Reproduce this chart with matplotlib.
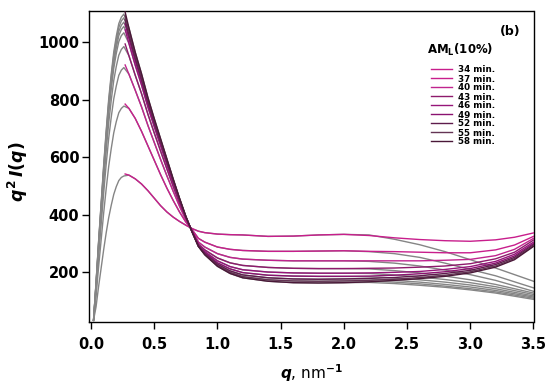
import matplotlib
matplotlib.use("Agg")
import matplotlib.pyplot as plt
from matplotlib.ticker import FormatStrFormatter

plt.rcParams['font.family'] = ['DejaVu Sans']
plt.rcParams['font.weight'] = 'bold'
plt.rcParams['mathtext.fontset'] = 'custom'
plt.rcParams['mathtext.rm'] = 'DejaVu Sans:bold'
plt.rcParams['mathtext.it'] = 'DejaVu Sans:italic:bold'
plt.rcParams['mathtext.bf'] = 'DejaVu Sans:bold'

times = ["34 min.", "37 min.", "40 min.", "43 min.", "46 min.", "49 min.", "52 min.", "55 min.", "58 min."]
colors = ["#c81e8c", "#c81e8c", "#c0248e", "#8e1a6c", "#96157a", "#8a1270", "#5e1c4c", "#643454", "#4a1838"]

# measured data q grid
q_meas = [0.27, 0.30, 0.35, 0.40, 0.45, 0.50, 0.55, 0.60, 0.65, 0.70, 0.75, 0.80, 0.85, 0.90,
          1.00, 1.10, 1.20, 1.40, 1.60, 1.80, 2.00, 2.20, 2.40, 2.60, 2.80, 3.00, 3.20, 3.35, 3.50]

m34 = [542, 538, 525, 507, 484, 458, 432, 410, 392, 377, 364, 352, 343, 338,
       333, 331, 330, 325, 326, 330, 332, 328, 320, 314, 310, 308, 313, 322, 337]
m37 = [785, 770, 735, 690, 640, 590, 540, 493, 450, 410, 375, 348, 318, 305,
       288, 280, 276, 273, 273, 274, 275, 273, 272, 270, 268, 268, 278, 295, 325]
m40 = [921, 889, 833, 775, 711, 652, 593, 536, 482, 430, 383, 345, 305, 288,
       265, 252, 246, 242, 240, 240, 240, 240, 240, 240, 242, 245, 258, 280, 318]
m43 = [994, 953, 885, 821, 750, 685, 622, 560, 499, 441, 388, 343, 298, 278,
       250, 233, 224, 217, 214, 213, 213, 214, 215, 218, 222, 230, 247, 270, 312]
m46 = [1043, 996, 920, 851, 775, 707, 641, 575, 510, 449, 391, 342, 294, 272,
       240, 220, 209, 201, 198, 197, 197, 198, 200, 203, 210, 220, 238, 263, 305]
m49 = [1064, 1014, 936, 864, 786, 716, 649, 582, 515, 452, 392, 341, 292, 268,
       233, 212, 199, 190, 187, 186, 186, 187, 190, 195, 202, 213, 232, 257, 300]
m52 = [1078, 1026, 946, 873, 794, 723, 655, 586, 519, 454, 393, 341, 291, 265,
       228, 205, 191, 181, 177, 176, 177, 179, 182, 188, 196, 207, 227, 252, 296]
m55 = [1092, 1039, 956, 882, 801, 729, 660, 591, 522, 456, 394, 340, 290, 263,
       224, 200, 185, 174, 170, 169, 170, 172, 176, 182, 190, 202, 222, 248, 292]
m58 = [1105, 1050, 965, 890, 808, 735, 665, 595, 525, 458, 395, 340, 290, 261,
       221, 196, 181, 169, 164, 163, 164, 167, 172, 178, 186, 198, 218, 244, 290]
measured = [m34, m37, m40, m43, m46, m49, m52, m55, m58]

# fit curves: low-q rise, then follow data, then high-q tails
q_fit_low = [0.02, 0.04, 0.06, 0.08, 0.10, 0.12, 0.14, 0.16, 0.18, 0.20, 0.22, 0.24, 0.26]
f_low = [
    [33, 80, 150, 214, 278, 337, 390, 433, 471, 498, 519, 530, 535],
    [33, 117, 218, 311, 405, 490, 568, 630, 685, 724, 755, 770, 778],
    [33, 137, 255, 365, 474, 575, 666, 739, 803, 848, 885, 903, 912],
    [33, 148, 276, 394, 512, 621, 719, 798, 867, 916, 955, 975, 985],
    [33, 155, 289, 413, 537, 651, 754, 837, 909, 961, 1002, 1023, 1033],
    [33, 158, 295, 422, 549, 665, 770, 855, 928, 981, 1023, 1044, 1055],
    [33, 161, 300, 428, 556, 674, 781, 867, 942, 995, 1038, 1059, 1070],
    [33, 163, 304, 434, 564, 684, 792, 879, 955, 1009, 1052, 1074, 1085],
    [33, 165, 307, 439, 571, 692, 802, 889, 966, 1021, 1065, 1087, 1098],
]
q_fit_high = [2.20, 2.40, 2.60, 2.80, 3.00, 3.20, 3.50]
f_high = [
    [330, 315, 296, 272, 244, 215, 169],
    [272, 265, 252, 232, 210, 188, 146],
    [238, 232, 222, 208, 192, 172, 134],
    [212, 206, 198, 187, 174, 158, 128],
    [196, 191, 184, 175, 164, 150, 123],
    [185, 180, 174, 166, 156, 143, 118],
    [177, 172, 166, 158, 149, 137, 114],
    [170, 166, 160, 152, 143, 132, 110],
    [165, 161, 155, 148, 139, 128, 106],
]
mid_lo, mid_hi = 1, 21  # q 0.30 .. 2.00 from the data grid

W, H = 550, 389
fig = plt.figure(figsize=(W / 100, H / 100), dpi=100)
ax = fig.add_axes([0.162, 0.172, 0.808, 0.800])

q_fit = q_fit_low + q_meas[mid_lo:mid_hi] + q_fit_high
for k in range(len(times)):
    fv = f_low[k] + measured[k][mid_lo:mid_hi] + f_high[k]
    ax.plot(q_fit, fv, color="#858585", lw=1.0, zorder=2)

handles = []
for k in range(len(times)):
    h, = ax.plot(q_meas, measured[k], color=colors[k], lw=1.0, zorder=3, label=times[k])
    handles.append(h)

ax.set_xlim(-0.015, 3.5)
ax.set_ylim(27, 1109)
ax.set_xticks([0.0, 0.5, 1.0, 1.5, 2.0, 2.5, 3.0, 3.5])
ax.set_yticks([200, 400, 600, 800, 1000])
ax.xaxis.set_major_formatter(FormatStrFormatter('%.1f'))
ax.tick_params(direction='out', length=5, width=1, labelsize=10.5, pad=2)
ax.tick_params(axis='x', pad=6)
for lab in ax.get_xticklabels() + ax.get_yticklabels():
    lab.set_fontweight('bold')
for s in ax.spines.values():
    s.set_linewidth(1.0)

ax.set_xlabel(r"$q$, nm$^{-1}$", fontsize=11, labelpad=7)
ax.set_ylabel(r"$q^{2}\,I(q)$", fontsize=12.5)
ax.yaxis.set_label_coords(-0.132, 0.482)

leg = ax.legend(handles=handles, loc='upper left',
                bbox_to_anchor=(431 / W, 1 - 65.5 / H), bbox_transform=fig.transFigure,
                frameon=False, fontsize=6.3, handlelength=2.4, handletextpad=0.69,
                labelspacing=0.0, borderaxespad=0, borderpad=0)
for t in leg.get_texts():
    t.set_fontweight('bold')

fig.text(460.5 / W, 1 - 50 / H, r"AM$_\mathregular{L}$(10%)", ha='center', va='center',
         fontsize=8.5, fontweight='bold')
fig.text(510 / W, 1 - 31 / H, "(b)", ha='center', va='center',
         fontsize=9, fontweight='bold')

fig.savefig("out.png", dpi=100)
